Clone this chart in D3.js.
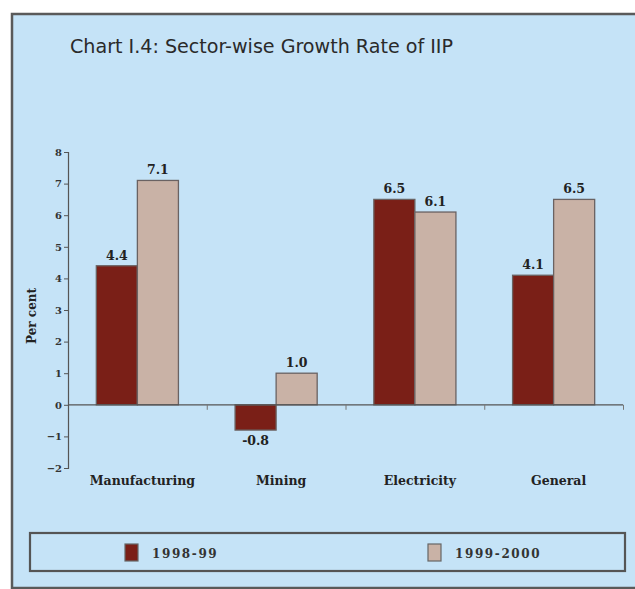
<!DOCTYPE html>
<html><head><meta charset="utf-8">
<script src="https://cdn.jsdelivr.net/npm/d3@7/dist/d3.min.js"></script>
<style>body{margin:0;background:#fff}svg{display:block}</style>
</head><body>
<script>
const categories = ["Manufacturing", "Mining", "Electricity", "General"];
const seriesNames = ["1998-99", "1999-2000"];
const values9899 = [4.4, -0.8, 6.5, 4.1];
const values9900 = [7.1, 1.0, 6.1, 6.5];
const labels9899 = ["4.4", "-0.8", "6.5", "4.1"];
const labels9900 = ["7.1", "1.0", "6.1", "6.5"];
const yTicks = [-2, -1, 0, 1, 2, 3, 4, 5, 6, 7, 8];
const colors = ["#7a1f17", "#c9b2a6"];

const W = 635, H = 589;
const svg = d3.select("body").append("svg").attr("width", W).attr("height", H);

// frame
svg.append("rect").attr("x", 12).attr("y", 14).attr("width", 640).attr("height", 574)
  .attr("fill", "#c5e3f7").attr("stroke", "#5a5a5a").attr("stroke-width", 2.5);

svg.append("text").attr("x", 70).attr("y", 53).attr("font-family", "DejaVu Sans Condensed, sans-serif")
  .attr("font-size", 19).attr("fill", "#2a2a2a").attr("textLength", 383).attr("lengthAdjust", "spacingAndGlyphs")
  .text("Chart I.4: Sector-wise Growth Rate of IIP");

const y = d3.scaleLinear().domain([-2, 8]).range([468, 152]);
const x0 = d3.scaleBand().domain(categories).range([68, 623]).padding(0);
const x1 = d3.scaleBand().domain(seriesNames).range([0, x0.bandwidth()]).paddingInner(0).paddingOuter(0.69);

const serif = "DejaVu Serif, Liberation Serif, serif";

// y axis
const yAxis = svg.append("g").attr("transform", "translate(68,0)")
  .call(d3.axisLeft(y).tickValues(yTicks).tickSize(4).tickFormat(d3.format("d")));
yAxis.select(".domain").attr("stroke", "#555").attr("stroke-width", 1.2);
yAxis.selectAll(".tick line").attr("stroke", "#555");
yAxis.selectAll(".tick text").attr("font-family", serif).attr("font-size", 10).attr("font-weight", "bold").attr("fill", "#333").attr("x", -6);

svg.append("text").attr("transform", "translate(36,316) rotate(-90)").attr("text-anchor", "middle")
  .attr("font-family", serif).attr("font-size", 12).attr("font-weight", "bold").attr("fill", "#222").text("Per cent");

// bars
const data = categories.map((c, i) => ({c, vals: [values9899[i], values9900[i]], labs: [labels9899[i], labels9900[i]]}));
const g = svg.append("g");
data.forEach(d => {
  d.vals.forEach((v, j) => {
    const xx = x0(d.c) + x1(seriesNames[j]);
    const top = y(Math.max(0, v)), bot = y(Math.min(0, v));
    g.append("rect").attr("x", xx).attr("y", top).attr("width", x1.bandwidth()).attr("height", bot - top)
      .attr("fill", colors[j]).attr("stroke", "#6a6262").attr("stroke-width", 1.3);
    g.append("text").attr("x", xx + x1.bandwidth() / 2).attr("y", v >= 0 ? top - 6 : bot + 15)
      .attr("text-anchor", "middle").attr("font-family", serif).attr("font-size", 12.5).attr("font-weight", "bold")
      .attr("fill", "#222").text(d.labs[j]);
  });
});

// x axis line
const zeroY = y(0);
const xAxis = svg.append("g").attr("transform", `translate(0,${zeroY})`)
  .call(d3.axisBottom(d3.scaleLinear().domain([0, 4]).range([68, 623])).tickValues([1, 2, 3, 4]).tickSize(5).tickFormat(""));
xAxis.select(".domain").attr("stroke", "#555").attr("stroke-width", 1.2).attr("d", `M68,0H623`);
xAxis.selectAll(".tick line").attr("stroke", "#777");

// category labels
svg.append("g").selectAll("text").data(categories).join("text")
  .attr("x", d => x0(d) + x0.bandwidth() / 2 + 5).attr("y", 485).attr("text-anchor", "middle")
  .attr("font-family", serif).attr("font-size", 12.5).attr("font-weight", "bold").attr("fill", "#222").text(d => d);

// legend
svg.append("rect").attr("x", 30).attr("y", 533).attr("width", 595).attr("height", 38)
  .attr("fill", "none").attr("stroke", "#555").attr("stroke-width", 2.2);
const legX = [125, 428];
seriesNames.forEach((s, j) => {
  svg.append("rect").attr("x", legX[j]).attr("y", 544).attr("width", 13).attr("height", 17)
    .attr("fill", colors[j]).attr("stroke", "#666").attr("stroke-width", 1.2);
  svg.append("text").attr("x", legX[j] + 27).attr("y", 558).attr("font-family", serif).attr("font-size", 12)
    .attr("font-weight", "bold").attr("letter-spacing", 1.6).attr("fill", "#333").text(s);
});
</script>
</body></html>
